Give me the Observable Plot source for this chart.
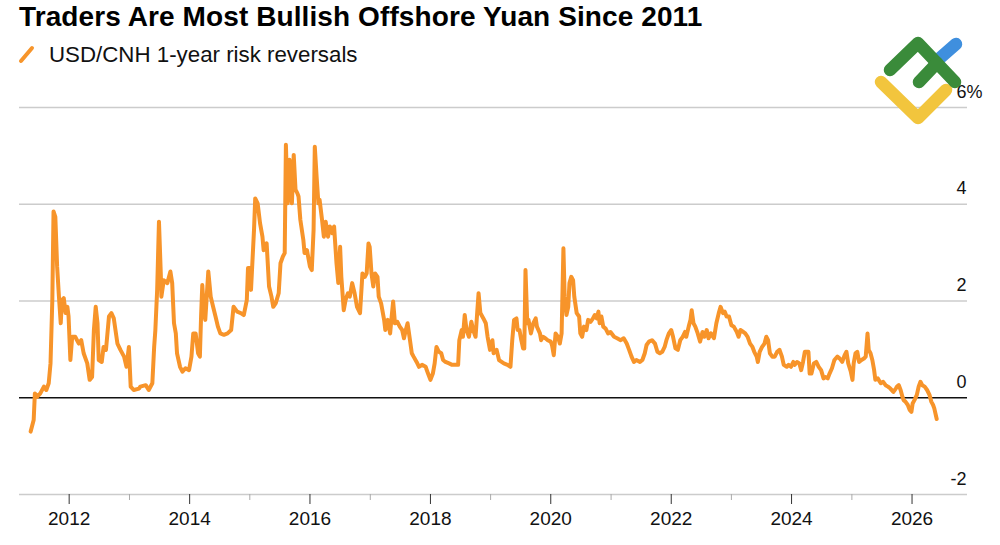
<!DOCTYPE html>
<html><head><meta charset="utf-8">
<script src="https://cdn.jsdelivr.net/npm/d3@7"></script>
<script src="https://cdn.jsdelivr.net/npm/@observablehq/plot@0.6"></script>
<style>
body{margin:0;background:#fff;width:1000px;height:545px;overflow:hidden;font-family:"Liberation Sans",Arial,sans-serif;}
#wrap{position:relative;width:1000px;height:545px;}
#title{position:absolute;left:19px;top:0;font-weight:bold;font-size:28px;letter-spacing:0.1px;color:#000;line-height:34px;white-space:nowrap;}
#legend{position:absolute;left:49px;top:41px;font-size:22.3px;line-height:28px;color:#111;white-space:nowrap;}
#swatch{position:absolute;left:0;top:0;}
#chart{position:absolute;left:0;top:70px;}
#logo{position:absolute;left:0;top:0;z-index:5;}
</style></head>
<body>
<div id="wrap">
  <div id="title">Traders Are Most Bullish Offshore Yuan Since 2011</div>
  <svg id="swatch" width="60" height="70"><line x1="21" y1="61" x2="32" y2="48" stroke="#f7952b" stroke-width="4" stroke-linecap="round"/></svg>
  <div id="legend">USD/CNH 1-year risk reversals</div>
  <div id="chart"></div>
  <svg id="logo" width="1000" height="140">
    <g fill="none" stroke-linecap="round" stroke-linejoin="round" stroke-width="12.5">
      <line x1="940" y1="58" x2="956" y2="44" stroke="#3f8fde"/>
      <polyline points="881,82 918,118 946,90" stroke="#f2c53d"/>
      <polyline points="890,70 918,43 955,82" stroke="#3a8b3a"/>
      <line x1="919" y1="82" x2="937" y2="63" stroke="#3a8b3a"/>
    </g>
  </svg>
</div>
<script>
// decimal-year positions of the readings
const dates = [
2011.36,2011.41,2011.43,2011.47,2011.52,2011.58,2011.62,2011.66,2011.69,2011.72,2011.74,2011.77,2011.80,2011.83,2011.86,2011.88,2011.91,2011.94,2011.97,2011.99,
2012.02,2012.05,2012.10,2012.16,2012.20,2012.24,2012.30,2012.34,2012.38,2012.41,2012.44,2012.47,2012.49,2012.54,2012.57,2012.61,2012.66,2012.70,2012.74,2012.80,2012.85,2012.91,2012.95,2012.99,
2013.02,2013.07,2013.16,2013.18,2013.27,2013.32,2013.38,2013.41,2013.43,2013.46,2013.49,2013.52,2013.53,2013.57,2013.63,2013.68,2013.71,2013.74,2013.77,2013.79,2013.84,2013.88,2013.93,2013.99,
2014.03,2014.06,2014.10,2014.14,2014.17,2014.19,2014.21,2014.24,2014.26,2014.31,2014.35,2014.39,2014.43,2014.47,2014.51,2014.57,2014.63,2014.69,2014.73,2014.79,2014.85,2014.90,2014.95,2014.97,
2015.00,2015.02,2015.07,2015.09,2015.13,2015.17,2015.21,2015.23,2015.28,2015.32,2015.36,2015.39,2015.43,2015.48,2015.51,2015.55,2015.58,2015.60,2015.63,2015.66,2015.70,2015.73,2015.76,2015.79,2015.81,2015.84,2015.89,2015.91,2015.95,
2016.00,2016.03,2016.06,2016.08,2016.11,2016.14,2016.16,2016.20,2016.23,2016.26,2016.30,2016.33,2016.37,2016.40,2016.44,2016.47,2016.50,2016.52,2016.56,2016.59,2016.63,2016.66,2016.70,2016.74,2016.78,2016.83,2016.87,2016.91,2016.94,2016.97,2016.99,
2017.02,2017.05,2017.08,2017.12,2017.14,2017.18,2017.23,2017.25,2017.29,2017.33,2017.35,2017.38,2017.41,2017.45,2017.49,2017.53,2017.56,2017.59,2017.62,2017.66,2017.69,2017.72,2017.77,2017.81,2017.86,2017.92,2017.96,
2018.00,2018.04,2018.07,2018.10,2018.14,2018.18,2018.21,2018.25,2018.31,2018.36,2018.42,2018.46,2018.48,2018.52,2018.54,2018.57,2018.60,2018.64,2018.68,2018.71,2018.75,2018.78,2018.80,2018.83,2018.88,2018.92,2018.95,2018.99,
2019.03,2019.05,2019.10,2019.14,2019.22,2019.28,2019.33,2019.36,2019.39,2019.43,2019.45,2019.48,2019.51,2019.54,2019.56,2019.58,2019.61,2019.63,2019.67,2019.71,2019.75,2019.77,2019.82,2019.84,2019.87,2019.91,2019.95,
2020.00,2020.02,2020.05,2020.08,2020.12,2020.15,2020.18,2020.21,2020.23,2020.26,2020.29,2020.31,2020.34,2020.37,2020.39,2020.43,2020.47,2020.49,2020.52,2020.55,2020.59,2020.62,2020.66,2020.70,2020.73,2020.76,2020.79,2020.81,2020.84,2020.87,2020.91,2020.95,2020.99,
2021.05,2021.10,2021.16,2021.21,2021.26,2021.30,2021.34,2021.38,2021.42,2021.48,2021.52,2021.56,2021.59,2021.63,2021.68,2021.73,2021.77,2021.81,2021.85,2021.89,2021.92,2021.96,
2022.00,2022.03,2022.07,2022.11,2022.15,2022.19,2022.23,2022.25,2022.29,2022.32,2022.34,2022.37,2022.40,2022.44,2022.48,2022.52,2022.55,2022.59,2022.62,2022.66,2022.71,2022.75,2022.79,2022.82,2022.86,2022.89,2022.92,2022.96,
2023.00,2023.04,2023.09,2023.12,2023.15,2023.20,2023.23,2023.27,2023.31,2023.35,2023.38,2023.42,2023.44,2023.47,2023.51,2023.55,2023.58,2023.61,2023.64,2023.68,2023.72,2023.76,2023.80,2023.84,2023.87,2023.92,2023.95,2023.99,
2024.03,2024.05,2024.09,2024.13,2024.16,2024.19,2024.22,2024.25,2024.28,2024.30,2024.33,2024.37,2024.41,2024.45,2024.49,2024.53,2024.56,2024.60,2024.63,2024.67,2024.71,2024.76,2024.80,2024.84,2024.88,2024.91,2024.94,2024.98,
2025.01,2025.03,2025.06,2025.09,2025.12,2025.16,2025.20,2025.23,2025.26,2025.28,2025.31,2025.34,2025.37,2025.39,2025.43,2025.48,2025.52,2025.56,2025.60,2025.64,2025.69,2025.73,2025.75,2025.78,2025.81,2025.84,2025.86,2025.89,2025.93,2025.96,2025.99,
2026.01,2026.04,2026.08,2026.11,2026.14,2026.17,2026.21,2026.25,2026.29,2026.32,2026.35,2026.37,2026.41
];
// USD/CNH 1-year risk reversals (vol points)
const values = [
-0.70,-0.46,0.09,0.02,0.09,0.23,0.16,0.30,0.71,2.02,3.85,3.74,2.71,2.09,1.54,2.02,2.06,1.75,1.88,1.68,
0.78,1.26,1.26,1.12,1.19,0.92,0.71,0.37,0.43,1.40,1.88,1.54,0.78,0.74,1.05,0.99,1.68,1.75,1.64,1.12,0.99,0.85,0.64,1.05,
0.23,0.16,0.19,0.23,0.26,0.16,0.30,1.05,1.40,2.23,3.64,2.57,2.09,2.43,2.37,2.61,2.37,1.54,1.33,0.92,0.64,0.54,0.61,0.57,
0.85,1.33,1.33,0.92,0.85,1.68,2.33,1.75,1.61,2.61,2.09,1.88,1.68,1.47,1.33,1.30,1.33,1.40,1.88,1.78,1.75,1.71,2.02,2.68,
2.68,2.23,3.47,4.12,4.02,3.61,3.33,3.05,3.19,2.30,2.09,1.88,1.95,2.16,2.78,2.92,2.99,5.23,4.02,4.92,4.02,5.02,4.30,4.23,4.16,3.68,3.26,2.99,3.05,
2.71,2.64,3.47,5.19,4.57,4.02,4.09,3.68,3.33,3.64,3.33,3.54,3.40,3.54,2.78,2.37,3.12,2.50,1.81,2.02,2.16,2.09,2.37,2.16,1.88,1.75,2.57,2.50,2.57,3.19,3.12,
2.57,2.30,2.57,2.50,2.09,1.95,1.61,1.40,1.61,1.33,1.61,1.99,1.54,1.57,1.47,1.40,1.23,1.40,1.54,1.19,0.92,0.85,0.74,0.64,0.68,0.64,0.50,
0.37,0.50,0.71,1.05,0.95,0.92,0.78,0.74,0.71,0.68,0.68,0.68,1.19,1.40,1.26,1.71,1.40,1.26,1.57,1.40,1.26,1.81,2.16,1.75,1.64,1.54,1.26,0.99,
1.19,0.92,0.99,0.78,0.71,0.68,0.64,1.19,1.61,1.64,1.40,1.40,1.19,1.02,1.02,2.64,1.54,1.61,1.33,1.54,1.64,1.47,1.33,1.19,1.26,1.23,1.19,
1.16,1.09,0.88,1.33,1.26,1.12,1.33,3.09,2.09,1.71,1.88,2.37,2.50,2.43,2.09,1.75,1.68,1.33,1.26,1.47,1.40,1.61,1.57,1.64,1.71,1.64,1.78,1.54,1.68,1.47,1.43,1.33,1.36,
1.26,1.23,1.19,1.23,1.12,0.99,0.85,0.74,0.78,0.74,0.78,0.92,1.09,1.16,1.19,1.12,0.95,0.92,0.95,1.05,1.19,1.33,
1.40,1.26,1.02,0.99,1.19,1.26,1.36,1.26,1.47,1.61,1.81,1.54,1.47,1.33,1.16,1.36,1.26,1.40,1.23,1.33,1.23,1.54,1.75,1.88,1.75,1.78,1.68,1.68,
1.50,1.47,1.36,1.26,1.40,1.36,1.33,1.26,1.12,1.05,0.95,0.85,0.74,0.95,1.05,1.12,1.26,1.19,0.92,0.85,0.85,0.95,0.99,0.85,0.68,0.64,0.68,0.64,
0.74,0.68,0.74,0.71,0.57,0.74,0.95,0.95,0.95,0.50,0.50,0.71,0.74,0.64,0.57,0.40,0.43,0.40,0.50,0.61,0.78,0.85,0.81,0.74,0.88,0.95,0.71,0.55,
0.37,0.71,0.92,0.95,0.74,0.78,0.81,0.85,1.33,0.99,0.92,0.78,0.57,0.37,0.40,0.30,0.33,0.26,0.23,0.19,0.12,0.19,0.23,0.26,0.16,0.02,-0.05,-0.08,-0.15,-0.25,-0.29,
-0.12,-0.05,0.06,0.23,0.33,0.26,0.23,0.16,0.06,-0.08,-0.15,-0.22,-0.44
];
const yTicks = [-2, 0, 2, 4, 6];
const gridValues = [6, 4, 2, -2];
const majorYears = [2012, 2014, 2016, 2018, 2020, 2022, 2024, 2026];
const minorYears = [2013, 2015, 2017, 2019, 2021, 2023, 2025];
const xExtent = [2011.1744, 2026.922];

function toDate(y) {
  const yr = Math.floor(y);
  const s = Date.UTC(yr, 0, 1), e = Date.UTC(yr + 1, 0, 1);
  return new Date(s + (y - yr) * (e - s));
}
const data = dates.map((t, i) => ({date: toDate(t), value: values[i]}));
const font = "'Liberation Sans', Arial, sans-serif";

const chart = Plot.plot({
  width: 1000, height: 475,
  marginLeft: 19, marginRight: 33, marginTop: 37, marginBottom: 51,
  x: {type: "utc", domain: xExtent.map(toDate), axis: null, label: null},
  y: {domain: [-2, 6], axis: null, label: null},
  style: {fontFamily: font, background: "#fff", color: "#111", overflow: "visible"},
  marks: [
    Plot.ruleY(gridValues, {stroke: "#cccccc", strokeWidth: 1.4}),
    Plot.axisX(minorYears.map(toDate), {tickSize: 6, tickFormat: () => "", stroke: "#aaaaaa", label: null}),
    Plot.axisX(majorYears.map(toDate), {tickSize: 10, tickPadding: 7, tickFormat: d => String(d.getUTCFullYear()), fontSize: 19, stroke: "#333", fill: "#111", label: null}),
    Plot.ruleY([0], {stroke: "#111", strokeWidth: 1.7}),
    Plot.lineY(data, {x: "date", y: "value", stroke: "#f7942a", strokeWidth: 4, strokeLinejoin: "round", strokeLinecap: "round"}),
    Plot.text(yTicks, {y: d => d, text: d => String(d), frameAnchor: "right", textAnchor: "end", lineAnchor: "bottom", dx: -1, dy: -10, fontSize: 18, fill: "#111"}),
    Plot.text([6], {y: d => d, text: () => "%", frameAnchor: "right", textAnchor: "start", lineAnchor: "bottom", dx: -1, dy: -10, fontSize: 18, fill: "#111"})
  ]
});
document.getElementById("chart").appendChild(chart);
</script>
</body></html>
